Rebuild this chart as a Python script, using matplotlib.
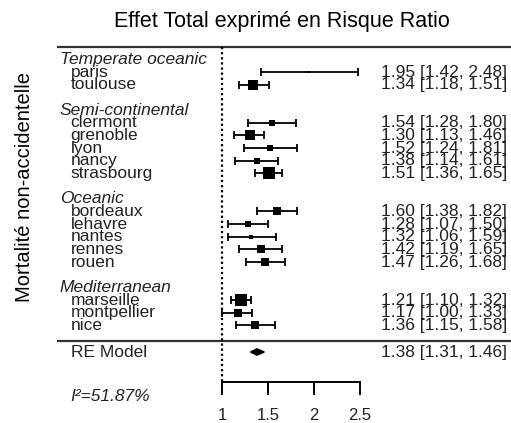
import numpy as np
import matplotlib
matplotlib.use("Agg")
import matplotlib.pyplot as plt
from matplotlib.patches import Polygon

plt.rcParams["font.family"] = ["Liberation Sans", "DejaVu Sans"]

# === Données ===
groupes = ["Temperate oceanic", "Semi-continental", "Oceanic", "Mediterranean"]
villes = [
    ["paris", "toulouse"],
    ["clermont", "grenoble", "lyon", "nancy", "strasbourg"],
    ["bordeaux", "lehavre", "nantes", "rennes", "rouen"],
    ["marseille", "montpellier", "nice"],
]
rr = [
    [1.95, 1.34],
    [1.54, 1.30, 1.52, 1.38, 1.51],
    [1.60, 1.28, 1.32, 1.42, 1.47],
    [1.21, 1.17, 1.36],
]
ic_bas = [
    [1.42, 1.18],
    [1.28, 1.13, 1.24, 1.14, 1.36],
    [1.38, 1.07, 1.06, 1.19, 1.26],
    [1.10, 1.00, 1.15],
]
ic_haut = [
    [2.48, 1.51],
    [1.80, 1.46, 1.81, 1.61, 1.65],
    [1.82, 1.50, 1.59, 1.65, 1.68],
    [1.32, 1.33, 1.58],
]
re_model = (1.38, 1.31, 1.46)
i2_texte = "I²=51.87%"
ticks = [1, 1.5, 2, 2.5]

titre = "Effet Total exprimé en Risque Ratio"
ylabel = "Mortalité non-accidentelle"

# === Figure ===
W, H = 511, 423
fig = plt.figure(figsize=(W / 100, H / 100), dpi=100)
ax = fig.add_axes([0, 0, 1, 1])
ax.axis("off")

# échelle : 1 RR = 92 px, x=1 à 222 px ; une ligne = 12.67 px, ligne 0 à 72 px
px_rr, x1_px = 92.0, 222.0
row_px, row0_px = 12.67, 72.0
ax.set_xlim(1 - x1_px / px_rr, 1 + (W - x1_px) / px_rr)
ax.set_ylim((H - row0_px) / row_px, -row0_px / row_px)

trans = ax.get_yaxis_transform()  # x en fraction, y en lignes
fs = 12.5

# poids (modèle à effets aléatoires, DerSimonian-Laird) pour la taille des carrés
all_est = np.log(np.concatenate([np.array(g) for g in rr]))
all_lo = np.log(np.concatenate([np.array(g) for g in ic_bas]))
all_hi = np.log(np.concatenate([np.array(g) for g in ic_haut]))
vi = ((all_hi - all_lo) / (2 * 1.96)) ** 2
wf = 1 / vi
mu_f = np.sum(wf * all_est) / wf.sum()
Q = np.sum(wf * (all_est - mu_f) ** 2)
tau2 = max(0.0, (Q - (len(vi) - 1)) / (wf.sum() - np.sum(wf ** 2) / wf.sum()))
w_all = 1 / (vi + tau2)
w_min, w_max = w_all.min(), w_all.max()

start = 0
for g, noms, est, lo, hi in zip(groupes, villes, rr, ic_bas, ic_haut):
    rows = start + np.arange(len(noms))
    ax.text(0.117, start - 1, g, transform=trans, ha="left", va="center",
            fontsize=fs, style="italic", color="#222222")
    est, lo, hi = np.array(est), np.array(lo), np.array(hi)
    ax.errorbar(est, rows, xerr=[est - lo, hi - est], fmt="none", ecolor="black",
                elinewidth=1.3, capsize=2.6, capthick=1.3)
    w = 1 / (((np.log(hi) - np.log(lo)) / (2 * 1.96)) ** 2 + tau2)
    cote_px = 2 + (w - w_min) / (w_max - w_min) * 10.5
    for xv, yv, s in zip(est, rows, cote_px):
        ax.plot(xv, yv, marker="s", color="black", markersize=s * 0.72,
                markeredgewidth=0, linestyle="none")
    for r, n, e, l, h in zip(rows, noms, est, lo, hi):
        ax.text(0.138, r, n, transform=trans, ha="left", va="center",
                fontsize=fs, color="#222222")
        ax.text(0.992, r, f"{e:.2f} [{l:.2f}, {h:.2f}]", transform=trans,
                ha="right", va="center", fontsize=fs, color="#222222")
    start += len(noms) + 2

last_row = start - 3
# lignes horizontales haut / bas
ax.plot([0.1135, 1], [-2, -2], transform=trans, color="#333333", lw=1.6)
ax.plot([0.1135, 1], [last_row + 1.25, last_row + 1.25], transform=trans,
        color="#333333", lw=1.6)

# modèle RE
re_row = last_row + 2.1
e, l, h = re_model
ax.add_patch(Polygon([[l, re_row], [e, re_row - 0.25], [h, re_row], [e, re_row + 0.25]],
                     closed=True, color="black"))
ax.text(0.138, re_row, "RE Model", transform=trans, ha="left", va="center",
        fontsize=fs, color="#222222")
ax.text(0.992, re_row, f"{e:.2f} [{l:.2f}, {h:.2f}]", transform=trans,
        ha="right", va="center", fontsize=fs, color="#222222")

# axe des x
axe_row = last_row + 4.5
ax.plot([1, 1], [-2, axe_row], color="black", lw=1.6, linestyle=(0, (1, 1.3)))
ax.plot([ticks[0], ticks[-1]], [axe_row, axe_row], color="black", lw=1.4)
for t in ticks:
    ax.plot([t, t], [axe_row, axe_row + 0.95], color="black", lw=1.4)
    ax.text(t, axe_row + 2.65, f"{t:g}", ha="center", va="center", fontsize=12,
            color="#222222")
ax.text(0.137, axe_row + 1.1, i2_texte, transform=trans, ha="left", va="center",
        fontsize=fs, style="italic", color="#222222")

# titres
fig.text(282 / W, 1 - 21 / H, titre, ha="center", va="center", fontsize=15.5)
fig.text(25 / W, 1 - 187 / H, ylabel, ha="center", va="center", fontsize=14.5,
         rotation=90)

fig.savefig("out.png", dpi=100)
plt.close(fig)
